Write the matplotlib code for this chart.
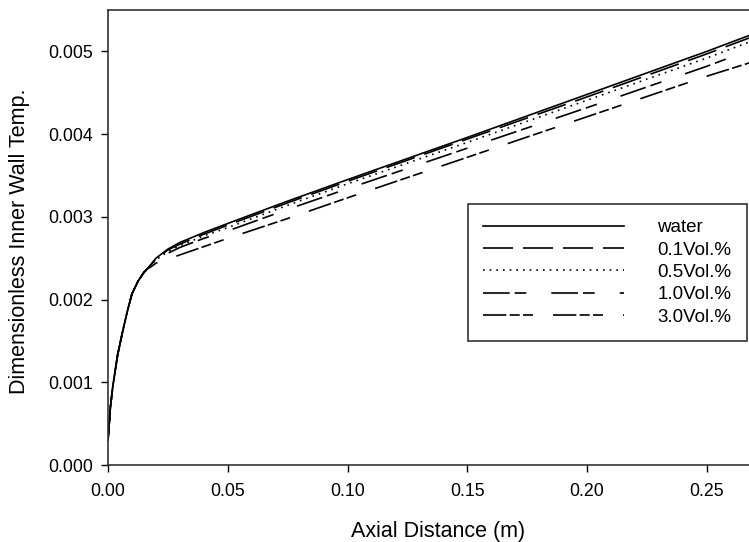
import matplotlib.pyplot as plt

plt.rcParams['font.family'] = ['Liberation Sans', 'DejaVu Sans']

# axial distance (m)
x = [0.0, 0.001, 0.002, 0.004, 0.006, 0.008, 0.010, 0.0125, 0.015, 0.0167,
     0.020, 0.025, 0.030, 0.040, 0.050, 0.075, 0.100, 0.150, 0.200, 0.250, 0.272]

water = [0.00030, 0.00070, 0.00095, 0.00133, 0.00160, 0.00185, 0.00207, 0.00222, 0.00233, 0.00238,
         0.00250, 0.00261, 0.00269, 0.00281, 0.00292, 0.00319, 0.00345, 0.00396, 0.00448, 0.00500, 0.00524]
vol01 = [0.00030, 0.00070, 0.00095, 0.00133, 0.00160, 0.00185, 0.00207, 0.00222, 0.00233, 0.00238,
         0.00249, 0.00260, 0.00267, 0.00279, 0.00290, 0.00317, 0.00343, 0.00394, 0.00445, 0.00497, 0.00521]
vol05 = [0.00030, 0.00070, 0.00095, 0.00133, 0.00160, 0.00185, 0.00207, 0.00222, 0.00233, 0.00238,
         0.00248, 0.00258, 0.00265, 0.00277, 0.00287, 0.00314, 0.00340, 0.00390, 0.00441, 0.00492, 0.00516]
vol10 = [0.00030, 0.00070, 0.00095, 0.00133, 0.00160, 0.00185, 0.00207, 0.00222, 0.00233, 0.00238,
         0.00247, 0.00256, 0.00263, 0.00274, 0.00283, 0.00309, 0.00334, 0.00383, 0.00432, 0.00482, 0.00506]
vol30 = [0.00030, 0.00070, 0.00095, 0.00133, 0.00160, 0.00185, 0.00207, 0.00222, 0.00233, 0.00237,
         0.00244, 0.00249, 0.00254, 0.00264, 0.00274, 0.00298, 0.00323, 0.00372, 0.00421, 0.00470, 0.00490]

labels = ['water', '0.1Vol.%', '0.5Vol.%', '1.0Vol.%', '3.0Vol.%']
series = [water, vol01, vol05, vol10, vol30]
styles = ['-', (0, (18, 6)), (0, (1, 3)), (0, (16, 3, 7, 15)), (0, (14, 2, 6, 2, 6, 12))]

fig = plt.figure(figsize=(7.49, 5.42), dpi=100, facecolor='white')
ax = fig.add_axes([0.1442, 0.142, 0.867, 0.8395])

for y, lab, ls in zip(series, labels, styles):
    ax.plot(x, y, color='black', linestyle=ls, linewidth=1.2, label=lab)

ax.set_xlim(0, 0.2711)
ax.set_ylim(0, 0.0055)
ax.set_xticks([0.0, 0.05, 0.10, 0.15, 0.20, 0.25])
ax.set_xticklabels(['0.00', '0.05', '0.10', '0.15', '0.20', '0.25'])
ax.set_yticks([0.0, 0.001, 0.002, 0.003, 0.004, 0.005])
ax.set_yticklabels(['0.000', '0.001', '0.002', '0.003', '0.004', '0.005'])
ax.tick_params(direction='out', length=5, width=1, labelsize=12.8, colors='black', pad=6)
ax.tick_params(axis='x', pad=8)
for s in ax.spines.values():
    s.set_color('#333333')
    s.set_linewidth(1.2)

ax.set_xlabel('Axial Distance (m)', fontsize=15.5, va='center')
ax.set_ylabel('Dimensionless Inner Wall Temp.', fontsize=15.5, va='center')
ax.xaxis.set_label_coords((438 - 108) / 649.4, -(531 - 465) / 455)
ax.yaxis.set_label_coords(-(108 - 19) / 649.4, (465 - 241) / 455)

leg = ax.legend(loc='upper left', bbox_to_anchor=(0.5544, 0.5736), fontsize=13.5,
                frameon=True, fancybox=False, edgecolor='#333333', framealpha=1,
                handlelength=7.5, handletextpad=1.8, labelspacing=0.28,
                borderpad=0.8, borderaxespad=0)
leg.get_frame().set_linewidth(1.2)

fig.savefig('out.png', dpi=100, facecolor='white')
